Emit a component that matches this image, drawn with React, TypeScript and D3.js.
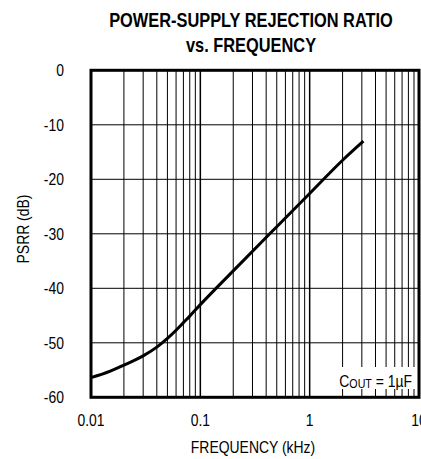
import React, { useEffect, useRef } from "react";
import * as d3 from "d3";

// curve
const freqKHz = [0.01, 0.015, 0.02, 0.03, 0.04, 0.05, 0.06, 0.07, 0.08, 0.1, 0.2, 0.5, 1, 2, 3.1];
const psrrDb = [-56.4, -55.2, -54.1, -52.4, -50.8, -49.2, -47.7, -46.3, -45.1, -43.0, -36.8, -28.7, -22.6, -16.5, -13];

const yTicks = [0, -10, -20, -30, -40, -50, -60];
const xTicks = [0.01, 0.1, 1, 10];
const xTickLabels = ["0.01", "0.1", "1", "10"];

const FONT = "'Liberation Sans', Arial, sans-serif";
const NARROW = 0.82;

type Sel = d3.Selection<any, unknown, null, undefined>;

// narrow text: Liberation Sans squeezed horizontally
function narrowText(parent: Sel, x: number, y: number, size: number, anchor: string, weight = "normal") {
  return parent.append("text")
    .attr("transform", `translate(${x},${y}) scale(${NARROW},1)`)
    .attr("text-anchor", anchor)
    .style("font-family", FONT)
    .style("font-size", `${size}px`)
    .style("font-weight", weight)
    .attr("fill", "#000");
}

export default function App() {
  const svgRef = useRef<SVGSVGElement | null>(null);

  useEffect(() => {
    const width = 421;
    const height = 459;
    const margin = { top: 70.3, right: 2, bottom: 61.7, left: 91 };

    const svg = d3.select(svgRef.current) as Sel;
    svg.selectAll("*").remove();
    svg.attr("width", width).attr("height", height);

    const xScale = d3.scaleLog().domain([0.01, 10]).range([margin.left, width - margin.right]);
    const yScale = d3.scaleLinear().domain([-60, 0]).range([height - margin.bottom, margin.top]);

    const data = freqKHz.map((f, i) => ({ f, db: psrrDb[i] }));

    // title
    narrowText(svg, 251, 27, 20, "middle", "bold").text("POWER-SUPPLY REJECTION RATIO");
    narrowText(svg, 251, 52, 20, "middle", "bold").text("vs. FREQUENCY");

    // grid
    const grid = svg.append("g");
    const minor: number[] = [];
    [0.01, 0.1, 1].forEach(dec => {
      for (let k = 1; k <= 9; k++) minor.push(dec * k);
    });
    minor.push(10);
    grid.selectAll("line.v")
      .data(minor)
      .enter().append("line")
      .attr("x1", d => xScale(d))
      .attr("x2", d => xScale(d))
      .attr("y1", yScale(0))
      .attr("y2", yScale(-60))
      .attr("stroke", "#000")
      .attr("stroke-width", d => (xTicks.includes(d) ? 1.5 : 1));
    grid.selectAll("line.h")
      .data(yTicks)
      .enter().append("line")
      .attr("x1", xScale(0.01))
      .attr("x2", xScale(10))
      .attr("y1", d => yScale(d))
      .attr("y2", d => yScale(d))
      .attr("stroke", "#000")
      .attr("stroke-width", 1);

    // annotation box
    svg.append("rect")
      .attr("x", 336)
      .attr("y", 367)
      .attr("width", 81)
      .attr("height", 22)
      .attr("fill", "#fff");
    const ann = narrowText(svg, 412, 387, 17, "end");
    ann.append("tspan").text("C");
    ann.append("tspan").style("font-size", "13px").attr("dy", 1).text("OUT");
    ann.append("tspan").attr("dy", -1).text(" = 1\u00B5F");

    // curve
    const line = d3.line<{ f: number; db: number }>()
      .x(d => xScale(d.f))
      .y(d => yScale(d.db))
      .curve(d3.curveMonotoneX);
    svg.append("path")
      .datum(data)
      .attr("d", line)
      .attr("fill", "none")
      .attr("stroke", "#000")
      .attr("stroke-width", 3);

    // frame
    svg.append("rect")
      .attr("x", xScale(0.01))
      .attr("y", yScale(0))
      .attr("width", xScale(10) - xScale(0.01))
      .attr("height", yScale(-60) - yScale(0))
      .attr("fill", "none")
      .attr("stroke", "#000")
      .attr("stroke-width", 3);

    // y ticks
    yTicks.forEach(d => {
      narrowText(svg, 64, yScale(d), 17, "end").attr("dy", "0.36em").text(String(d));
    });

    // x ticks
    xTicks.forEach((d, i) => {
      narrowText(svg, xScale(d), 426, 17, "middle").text(xTickLabels[i]);
    });

    narrowText(svg, 253, 453, 17, "middle").text("FREQUENCY (kHz)");

    svg.append("text")
      .attr("transform", `translate(29, 229) rotate(-90) scale(${NARROW},1)`)
      .attr("text-anchor", "middle")
      .style("font-family", FONT)
      .style("font-size", "17px")
      .text("PSRR (dB)");
  }, []);

  return (
    <div>
      <svg ref={svgRef} style={{ position: "absolute", left: 0, top: 0, background: "#fff" }} />
    </div>
  );
}
